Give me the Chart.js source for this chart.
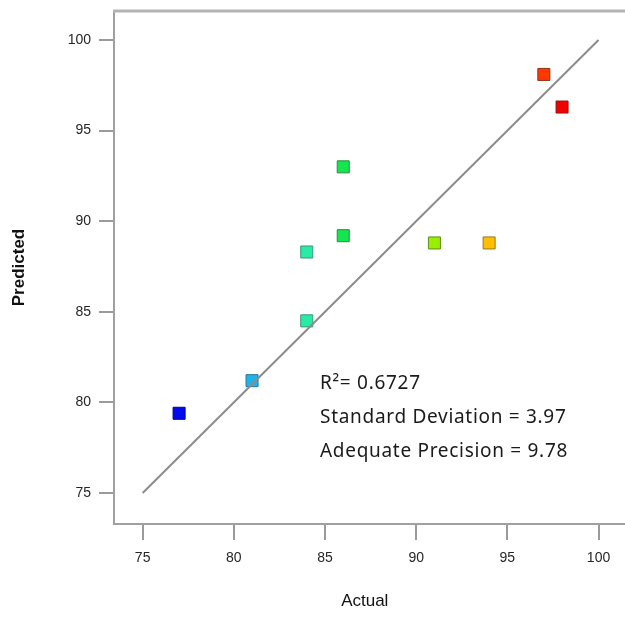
<!DOCTYPE html>
<html>
<head>
<meta charset="utf-8">
<script src="https://cdn.jsdelivr.net/npm/chart.js@4.4.1/dist/chart.umd.min.js"></script>
<style>
  html, body { margin: 0; padding: 0; background: #fff; }
  #wrap { width: 625px; height: 635px; }
</style>
</head>
<body>
<div id="wrap"><canvas id="myChart"></canvas></div>
<script>
// ========== data
const actual    = [77, 81, 84, 84, 86, 86, 91, 94, 97, 98];
const predicted = [79.4, 81.2, 84.5, 88.3, 89.2, 93.0, 88.8, 88.8, 98.1, 96.3];
const fitLine   = [75, 100];          // y = x reference line, ends
const xTicks    = [75, 80, 85, 90, 95, 100];
const yTicks    = [75, 80, 85, 90, 95, 100];
const statLines = ['R\u00B2= 0.6727', 'Standard Deviation = 3.97', 'Adequate Precision = 9.78'];

// one colour per point (blue -> red by actual value)
const pointColors = [
	'rgb(0, 10, 235)',
	'rgb(30, 180, 235)',
	'rgb(40, 235, 165)',
	'rgb(40, 235, 165)',
	'rgb(20, 230, 80)',
	'rgb(20, 230, 80)',
	'rgb(150, 240, 0)',
	'rgb(255, 190, 0)',
	'rgb(255, 55, 0)',
	'rgb(240, 0, 0)'
];
const pointBorders = [
	'rgb(0, 0, 150)',
	'rgb(40, 120, 150)',
	'rgb(60, 150, 120)',
	'rgb(60, 150, 120)',
	'rgb(40, 140, 60)',
	'rgb(40, 140, 60)',
	'rgb(100, 140, 20)',
	'rgb(150, 120, 30)',
	'rgb(150, 50, 20)',
	'rgb(150, 20, 20)'
];

// ========== plugins: frame lines run on to the right edge + stats text
const frameLines = {
	id: 'frameLines',
	afterDraw(chart) {
		const a = chart.chartArea, c = chart.ctx;
		c.save();
		c.strokeStyle = '#b4b4b4';
		c.lineWidth = 3;
		c.beginPath();
		c.moveTo(a.left - 1, a.top);
		c.lineTo(chart.width, a.top);
		c.stroke();
		c.strokeStyle = '#a0a0a0';
		c.lineWidth = 2;
		c.beginPath();
		c.moveTo(a.right - 1, a.bottom);
		c.lineTo(chart.width, a.bottom);
		c.stroke();
		c.restore();
	}
};

const statsText = {
	id: 'statsText',
	afterDraw(chart) {
		const c = chart.ctx;
		c.save();
		c.fillStyle = '#1a1a1a';
		c.font = '19px "Noto Sans"';
		c.letterSpacing = '0.7px';
		c.textBaseline = 'alphabetic';
		statLines.forEach((t, i) => c.fillText(t, 320, 389 + i * 34));
		c.restore();
	}
};

// drop the label overflow padding so the plot box fills the canvas
function noPad(s) {
	s.paddingLeft = 0; s.paddingRight = 0;
	s.paddingTop = 0; s.paddingBottom = 0;
}

// ========== chart
const ctx = document.getElementById('myChart').getContext('2d');
const myChart = new Chart(ctx, {
	type: 'scatter',
	data: {
		datasets: [{
			type: 'line',
			data: fitLine.map(v => ({ x: v, y: v })),
			borderColor: '#8c8c8c',
			borderWidth: 2,
			pointRadius: 0,
			fill: false
		}, {
			data: actual.map((v, i) => ({ x: v, y: predicted[i] })),
			pointStyle: 'rect',
			pointRadius: 8.5,
			backgroundColor: pointColors,
			borderColor: pointBorders,
			borderWidth: 1
		}]
	},
	options: {
		responsive: true,
		maintainAspectRatio: false,
		animation: false,
		layout: { padding: { top: 11, right: 0, bottom: 0, left: 0 } },
		plugins: { legend: { display: false }, tooltip: { enabled: false } },
		scales: {
			x: {
				type: 'linear',
				min: 73.43,
				max: 100.93,
				afterBuildTicks: s => { s.ticks = xTicks.map(v => ({ value: v })); },
				afterFit: s => { s.height = 111; noPad(s); },
				grid: { drawOnChartArea: false, drawTicks: true, tickLength: 16, color: '#9a9a9a', lineWidth: 2 },
				border: { display: true, color: '#a0a0a0', width: 2 },
				ticks: { color: '#262626', padding: 10, font: { family: '"Liberation Sans", Arial', size: 14 } },
				title: {
					display: true, text: 'Actual', color: '#111',
					font: { family: '"Liberation Sans", Arial', size: 17 },
					padding: { top: 0, bottom: 23 }
				}
			},
			y: {
				type: 'linear',
				min: 73.29,
				max: 101.6,
				afterBuildTicks: s => { s.ticks = yTicks.map(v => ({ value: v })); },
				afterFit: s => { s.width = 114; noPad(s); },
				grid: { drawOnChartArea: false, drawTicks: true, tickLength: 15, color: '#9a9a9a', lineWidth: 2 },
				border: { display: true, color: '#a0a0a0', width: 2 },
				ticks: { color: '#262626', padding: 8, font: { family: '"Liberation Sans", Arial', size: 14 } },
				title: {
					display: true, text: 'Predicted', color: '#111',
					font: { family: '"Liberation Sans", Arial', size: 17, weight: 'bold' },
					padding: { top: 9, bottom: 0 }
				}
			}
		}
	},
	plugins: [frameLines, statsText]
});
</script>
</body>
</html>
